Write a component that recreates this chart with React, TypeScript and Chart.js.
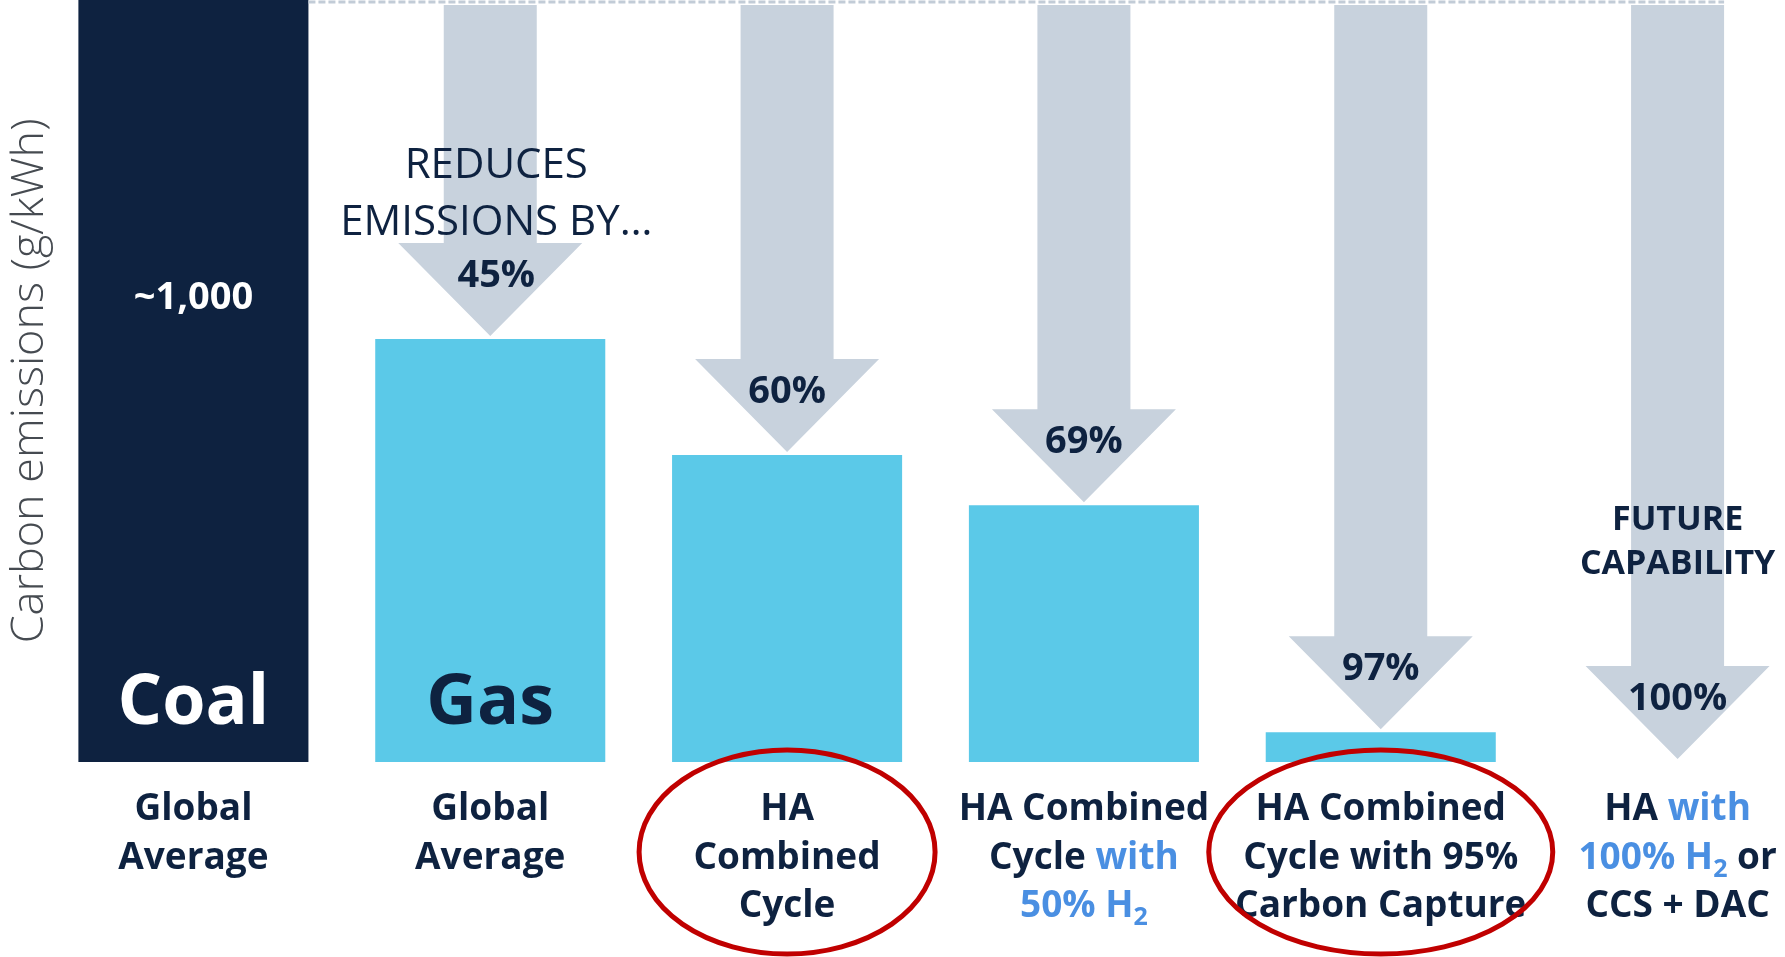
import React, { useEffect, useRef } from 'react';
import { Chart, registerables } from 'chart.js';

Chart.register(...registerables);

// ---------- data ----------
const categories = [
  'Coal – Global Average',
  'Gas – Global Average',
  'HA Combined Cycle',
  'HA Combined Cycle with 50% H2',
  'HA Combined Cycle with 95% Carbon Capture',
  'HA with 100% H2 or CCS + DAC',
];
const emissions = [1000, 555, 403, 337, 39, 0];
const reductions = ['', '45%', '60%', '69%', '97%', '100%'];
const fuelNames = ['Coal', 'Gas', '', '', '', ''];
const coalValueLabel = '~1,000';
const circled = [false, false, true, false, true, false];
const axisTitle = 'Carbon emissions (g/kWh)';
const reducesText = ['REDUCES', 'EMISSIONS BY…'];
const futureText = ['FUTURE', 'CAPABILITY'];

type Seg = { t: string; blue?: boolean; sub?: boolean };
const labelLines: Seg[][][] = [
  [[{ t: 'Global' }], [{ t: 'Average' }]],
  [[{ t: 'Global' }], [{ t: 'Average' }]],
  [[{ t: 'HA' }], [{ t: 'Combined' }], [{ t: 'Cycle' }]],
  [
    [{ t: 'HA Combined' }],
    [{ t: 'Cycle ' }, { t: 'with', blue: true }],
    [{ t: '50% H', blue: true }, { t: '2', blue: true, sub: true }],
  ],
  [[{ t: 'HA Combined' }], [{ t: 'Cycle with 95%' }], [{ t: 'Carbon Capture' }]],
  [
    [{ t: 'HA ' }, { t: 'with', blue: true }],
    [{ t: '100% H', blue: true }, { t: '2', blue: true, sub: true }, { t: ' or' }],
    [{ t: 'CCS + DAC' }],
  ],
];

// ---------- styles ----------
const NAVY = '#0e2240';
const BAR_BLUE = '#5bc9e8';
const ARROW = '#c8d2dd';
const DASH = '#c2ccd7';
const TEXT_BLUE = '#4a8fe2';
const RED = '#c00000';
const FONT = '"Open Sans", "Noto Sans", sans-serif';
const barColors = [NAVY, BAR_BLUE, BAR_BLUE, BAR_BLUE, BAR_BLUE, BAR_BLUE];
const ellipseRx = [0, 0, 148, 0, 172, 0];

function drawSegLine(ctx: CanvasRenderingContext2D, segs: Seg[], cx: number, baseY: number, size: number) {
  const subSize = Math.round(size * 0.68);
  const fontFor = (s: Seg) => `bold ${s.sub ? subSize : size}px ${FONT}`;
  let total = 0;
  const widths = segs.map((s) => {
    ctx.font = fontFor(s);
    const w = ctx.measureText(s.t).width;
    total += w;
    return w;
  });
  let xPos = cx - total / 2;
  ctx.textAlign = 'left';
  ctx.textBaseline = 'alphabetic';
  segs.forEach((s, i) => {
    ctx.font = fontFor(s);
    ctx.fillStyle = s.blue ? TEXT_BLUE : NAVY;
    ctx.fillText(s.t, xPos, s.sub ? baseY + 8 : baseY);
    xPos += widths[i];
  });
}

const annotationPlugin = {
  id: 'annotations',
  afterDatasetsDraw(chart: any) {
    const { ctx, scales } = chart;
    const x = scales.x;
    const y = scales.y;
    const meta = chart.getDatasetMeta(0);
    const top = y.getPixelForValue(emissions[0]);
    const base = y.getPixelForValue(0);
    const shaftW = 93;
    const headW = 184;
    const headH = 93;

    ctx.save();
    // arrows
    const tips: number[] = [];
    for (let i = 1; i < emissions.length; i++) {
      const cx = x.getPixelForValue(i);
      const tip = y.getPixelForValue(emissions[i]) - 3;
      tips[i] = tip;
      const headTop = tip - headH;
      ctx.fillStyle = ARROW;
      ctx.beginPath();
      ctx.moveTo(cx - shaftW / 2, top + 5);
      ctx.lineTo(cx + shaftW / 2, top + 5);
      ctx.lineTo(cx + shaftW / 2, headTop);
      ctx.lineTo(cx + headW / 2, headTop);
      ctx.lineTo(cx, tip);
      ctx.lineTo(cx - headW / 2, headTop);
      ctx.lineTo(cx - shaftW / 2, headTop);
      ctx.closePath();
      ctx.fill();
    }

    // dashed reference line at coal level
    const coal = meta.data[0].getProps(['x', 'width'], true);
    ctx.save();
    ctx.setLineDash([7, 3]);
    ctx.strokeStyle = DASH;
    ctx.lineWidth = 3;
    ctx.beginPath();
    ctx.moveTo(coal.x + coal.width / 2, top + 2);
    ctx.lineTo(x.getPixelForValue(emissions.length - 1) + shaftW / 2, top + 2);
    ctx.stroke();
    ctx.restore();

    // coal value
    ctx.textAlign = 'center';
    ctx.textBaseline = 'alphabetic';
    ctx.fillStyle = '#ffffff';
    ctx.font = `bold 38px ${FONT}`;
    ctx.fillText(coalValueLabel, coal.x, top + 309);

    // fuel names inside bars
    ctx.font = `bold 70px ${FONT}`;
    fuelNames.forEach((n, i) => {
      if (!n) return;
      ctx.fillStyle = i === 0 ? '#ffffff' : NAVY;
      ctx.fillText(n, x.getPixelForValue(i), base - 38);
    });

    // "REDUCES EMISSIONS BY..."
    ctx.fillStyle = NAVY;
    ctx.font = `42px ${FONT}`;
    const c1 = x.getPixelForValue(1) + 6;
    ctx.fillText(reducesText[0], c1, top + 178);
    ctx.fillText(reducesText[1], c1, top + 235);

    // reduction percentages
    ctx.font = `bold 38px ${FONT}`;
    for (let i = 1; i < reductions.length; i++) {
      ctx.fillText(reductions[i], x.getPixelForValue(i) + (i === 1 ? 6 : 0), tips[i] - 49);
    }

    // future capability
    ctx.font = `bold 34px ${FONT}`;
    const c5 = x.getPixelForValue(5);
    ctx.fillText(futureText[0], c5, base - 232);
    ctx.fillText(futureText[1], c5, base - 188);

    // category labels
    labelLines.forEach((lines, i) => {
      const cx = x.getPixelForValue(i);
      lines.forEach((segs, li) => {
        drawSegLine(ctx, segs, cx, base + 58 + li * 48.5, 37);
      });
    });

    // red ellipses
    ctx.strokeStyle = RED;
    ctx.lineWidth = 5;
    circled.forEach((c, i) => {
      if (!c) return;
      ctx.beginPath();
      ctx.ellipse(x.getPixelForValue(i), base + 90, ellipseRx[i], 102, 0, 0, Math.PI * 2);
      ctx.stroke();
    });
    ctx.restore();
  },
};

export default function App() {
  const canvasRef = useRef<HTMLCanvasElement | null>(null);

  useEffect(() => {
    if (!canvasRef.current) return;
    const chart = new Chart(canvasRef.current, {
      type: 'bar',
      data: {
        labels: categories,
        datasets: [
          {
            data: emissions,
            backgroundColor: barColors,
            borderWidth: 0,
            categoryPercentage: 1,
            barPercentage: 0.775,
          },
        ],
      },
      options: {
        responsive: false,
        animation: false,
        layout: { padding: { left: 0, right: 0, top: 0, bottom: 195 } },
        plugins: {
          legend: { display: false },
          tooltip: { enabled: false },
          title: { display: false },
        },
        scales: {
          x: { display: false },
          y: {
            min: 0,
            max: 1000,
            border: { display: false },
            grid: { display: false, drawTicks: false },
            ticks: { display: false },
            title: {
              display: true,
              text: axisTitle,
              color: '#464b51',
              font: { family: FONT, size: 45, weight: '300', lineHeight: 1 },
              padding: { top: 8, bottom: -8 },
            },
          },
        },
      },
      plugins: [annotationPlugin],
    });
    return () => chart.destroy();
  }, []);

  return (
    <div
      style={{
        position: 'fixed',
        left: 0,
        top: 0,
        width: 1785,
        height: 957,
        overflow: 'hidden',
        background: '#ffffff',
      }}
    >
      <canvas ref={canvasRef} width={1826} height={957} style={{ width: 1826, height: 957, display: 'block' }} />
    </div>
  );
}
